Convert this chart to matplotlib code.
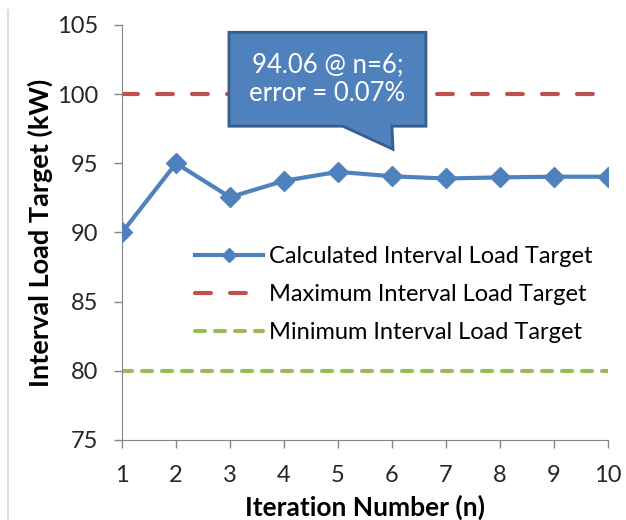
import matplotlib
matplotlib.use("Agg")
import matplotlib.pyplot as plt
from matplotlib.patches import Polygon
from matplotlib.lines import Line2D

plt.rcParams["font.family"] = ["Lato", "DejaVu Sans"]

iterations = [1, 2, 3, 4, 5, 6, 7, 8, 9, 10]
calculated = [90.0, 95.0, 92.55, 93.73, 94.38, 94.06, 93.9, 93.98, 94.03, 94.03]
max_target = 100
min_target = 80
y_ticks = [75, 80, 85, 90, 95, 100, 105]
callout_n = 6
callout_text = "94.06 @ n=6;\nerror = 0.07%"

BLUE, RED, GREEN = "#4F81BD", "#C0504D", "#9BBB59"

fig = plt.figure(figsize=(6.26, 5.2), dpi=100)
ax = fig.add_axes([0.195, 0.154, 0.776, 0.798])

ax.plot(iterations, calculated, "-D", color=BLUE, lw=3, ms=10, zorder=4,
        label="Calculated Interval Load Target")
ax.plot(iterations, [max_target] * len(iterations), color=RED, lw=3,
        dashes=(3.8, 4.6), dash_capstyle="round", label="Maximum Interval Load Target")
ax.plot(iterations, [min_target] * len(iterations), color=GREEN, lw=3,
        dashes=(2.4, 2.4), dash_capstyle="round", label="Minimum Interval Load Target")

ax.set_xlim(1, 10)
ax.set_ylim(75, 105)
ax.set_xticks(iterations)
ax.set_yticks(y_ticks)
for s in ["top", "right"]:
    ax.spines[s].set_visible(False)
for s in ["left", "bottom"]:
    ax.spines[s].set_color("#868686")
ax.tick_params(colors="#868686", labelcolor="#262626", labelsize=17, length=6, width=1)
ax.tick_params(axis="x", pad=12)
ax.tick_params(axis="y", pad=11)
ax.set_xlabel("Iteration Number (n)", fontsize=19, fontweight="bold", labelpad=6)
ax.set_ylabel("Interval Load Target (kW)", fontsize=19.5, fontweight="bold", labelpad=3)

leg = ax.legend(loc="upper left", bbox_to_anchor=(0.13, 0.49), frameon=False,
                fontsize=17, handlelength=2.9, handletextpad=0.25, labelspacing=0.72,
                markerscale=0.75, borderaxespad=0)

# callout box with pointer down to the n=6 region
cy = calculated[iterations.index(callout_n)]
x0, x1 = callout_n - 3.02, callout_n + 0.63
yb, yt = cy + 3.62, cy + 10.41
verts = [(x0, yb), (x0, yt), (x1, yt), (x1, yb), (callout_n, yb),
         (callout_n + 0.02, cy + 1.95), (callout_n - 0.91, yb)]
ax.add_patch(Polygon(verts, closed=True, fc=BLUE, ec="#385D8A", lw=2,
                     zorder=6, clip_on=False))
ax.text((x0 + x1) / 2, (yb + yt) / 2, callout_text, color="white", fontsize=18.5,
        ha="center", va="center", linespacing=1.2, zorder=7)

fig.add_artist(Line2D([0.013, 0.013], [0.0, 0.98], color="#D9D9D9", lw=1.2))

fig.savefig("out.png", dpi=100)
